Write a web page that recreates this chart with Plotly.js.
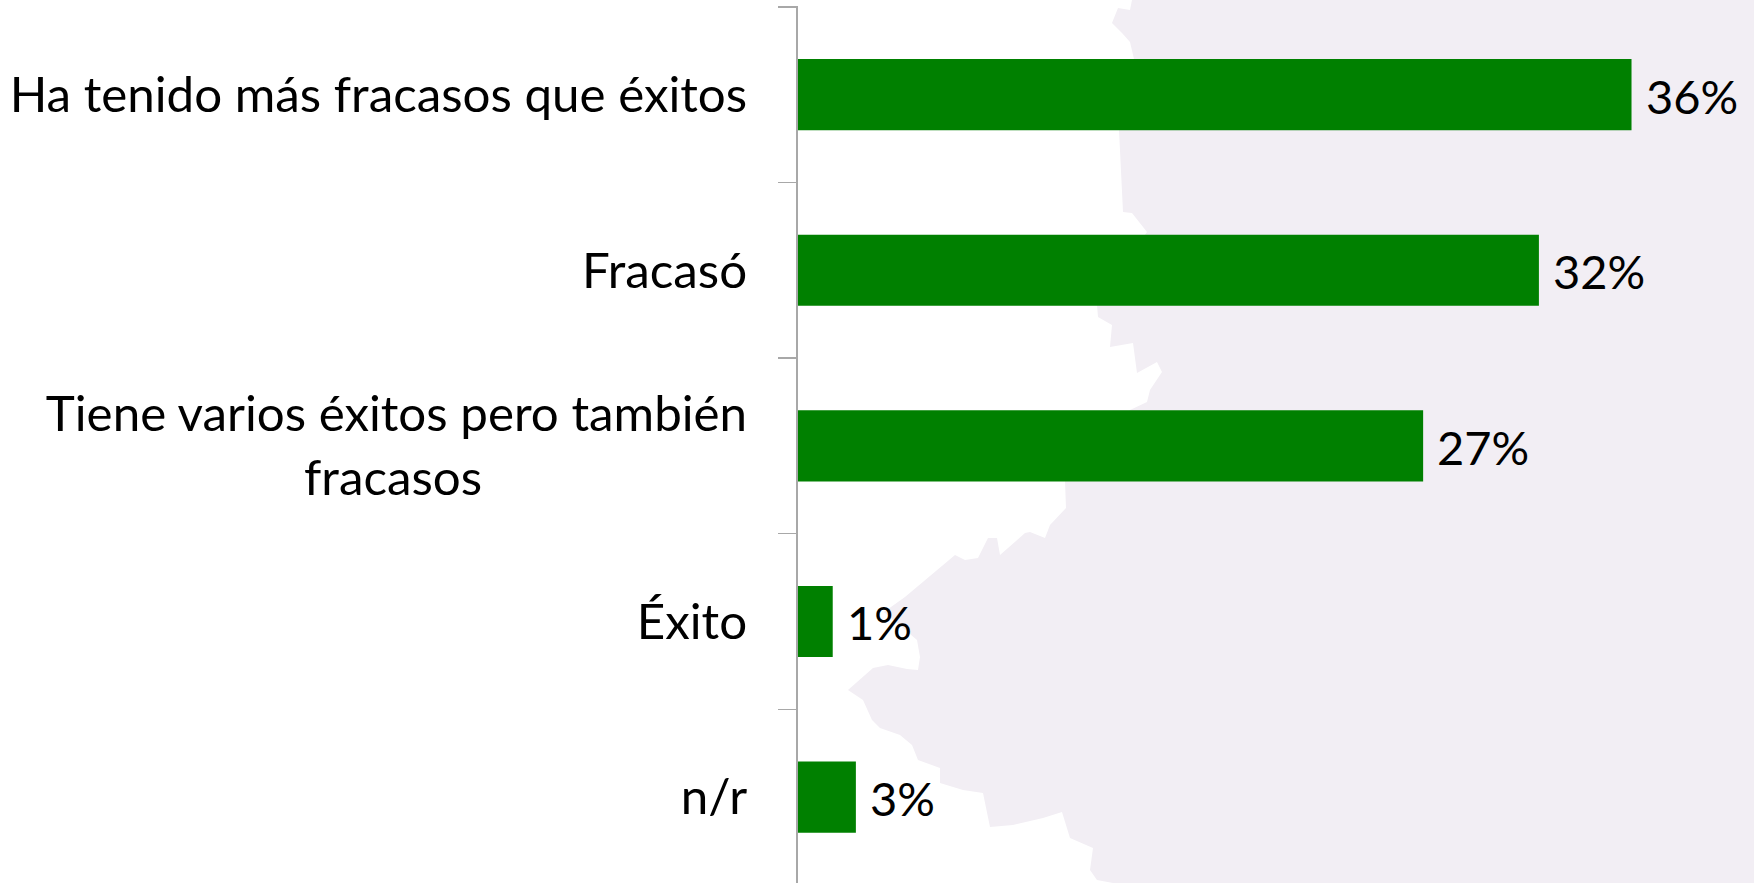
<!DOCTYPE html>
<html>
<head>
<meta charset="utf-8">
<script src="https://cdn.plot.ly/plotly-3.0.1.min.js"></script>
<style>html,body{margin:0;padding:0;background:#fff;overflow:hidden}</style>
</head>
<body>
<div id="chart" style="width:1754px;height:883px"></div>
<script>
const categories = ["Ha tenido más fracasos que éxitos", "Fracasó", "Tiene varios éxitos pero también<br>fracasos" + "\u00a0".repeat(21), "Éxito", "n/r"];
const barValues = [36, 32, 27, 1.5, 2.5];
const valueLabels = ["36%", "32%", "27%", "1%", "3%"];

// Decorative background silhouette (page pixels), not data
const mapOutline = [[1132,0],[1130,10],[1118,8],[1112,23],[1122,33],[1130,42],[1134,59],[1119,130],[1123,212],[1132,213],[1147,232],[1097,305],[1098,317],[1112,325],[1110,347],[1133,343],[1137,373],[1157,362],[1162,372],[1150,390],[1147,402],[1130,410],[1065,481],[1066,508],[1050,525],[1045,538],[1030,532],[1025,533],[1000,555],[997,538],[988,538],[978,558],[965,560],[955,555],[905,597],[884,612],[917,640],[920,657],[918,670],[907,669],[888,665],[873,668],[848,690],[863,700],[872,720],[880,728],[900,735],[912,745],[918,760],[940,768],[940,783],[963,790],[983,793],[990,827],[1013,825],[1043,818],[1062,812],[1070,838],[1093,848],[1090,870],[1097,880],[1113,883],[1754,883],[1754,0]];
const W = 1754, H = 883, ML = 798, MT = 6;
const mapPath = mapOutline.map((p,i)=>(i?"L":"M")+((p[0]-ML)/(W-ML)).toFixed(5)+","+(1-(p[1]-MT)/(H-MT)).toFixed(5)).join(" ")+" Z";

const labelFont = "Lato, 'Open Sans', sans-serif";

Plotly.newPlot("chart", [{
  type: "bar",
  orientation: "h",
  y: categories,
  x: barValues,
  marker: {color: "#008000", line: {width: 0}},
  hoverinfo: "skip"
}], {
  width: W, height: H,
  paper_bgcolor: "#fff",
  plot_bgcolor: "rgba(0,0,0,0)",
  margin: {l: ML, r: 0, t: MT, b: 0, pad: 0},
  bargap: 0.595,
  showlegend: false,
  xaxis: {range: [0, 41.29], visible: false, fixedrange: true},
  yaxis: {
    range: [4.4893, -0.505],
    type: "category",
    tickson: "boundaries",
    ticks: "outside",
    ticklen: 18,
    tickwidth: 1.5,
    tickcolor: "#a8a8a8",
    showline: true,
    linecolor: "#a8a8a8",
    linewidth: 2,
    showgrid: false,
    zeroline: false,
    ticklabelstandoff: 39,
    tickfont: {family: labelFont, size: 49.3, color: "#000"},
    fixedrange: true
  },
  annotations: valueLabels.map((t,i)=>({
    x: barValues[i], y: categories[i], xref: "x", yref: "y",
    text: t, showarrow: false, xanchor: "left", yanchor: "middle",
    xshift: 12, yshift: -1,
    font: {family: labelFont, size: 47, color: "#000"}
  })),
  shapes: [{type: "path", xref: "paper", yref: "paper", path: mapPath, fillcolor: "#f2eef4", line: {width: 0}, layer: "below"}]
}, {displayModeBar: false, staticPlot: true});
</script>
</body>
</html>
